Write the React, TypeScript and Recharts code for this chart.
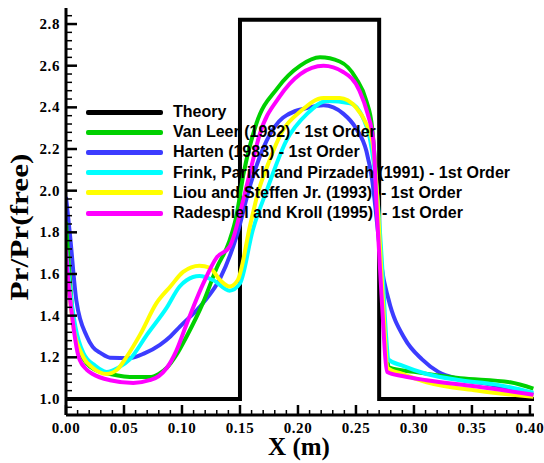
import { LineChart, Line, XAxis, YAxis, Legend } from "recharts";

// [x (m), Pr/Pr(free)]
const THEORY: [number, number][] = [
  [0, 1.0], [0.15, 1.0], [0.15, 2.82], [0.27, 2.82], [0.27, 1.0], [0.4035, 1.0],
];

const VAN_LEER: [number, number][] = [
  [0, 1.85], [0.002, 1.68], [0.006, 1.39], [0.012, 1.23], [0.018, 1.17], [0.025, 1.14],
  [0.038, 1.12], [0.05, 1.108], [0.06, 1.105], [0.072, 1.105], [0.08, 1.12], [0.087, 1.15],
  [0.095, 1.21], [0.104, 1.3], [0.118, 1.46], [0.13, 1.63], [0.141, 1.76], [0.147, 1.88],
  [0.153, 2.08], [0.164, 2.32], [0.182, 2.49], [0.202, 2.6], [0.219, 2.64], [0.236, 2.62],
  [0.25, 2.54], [0.259, 2.43], [0.264, 2.3], [0.268, 2.0], [0.272, 1.6], [0.276, 1.25],
  [0.279, 1.15], [0.3, 1.13], [0.34, 1.1], [0.383, 1.08], [0.403, 1.05],
];

const HARTEN: [number, number][] = [
  [0, 1.97], [0.0034, 1.79], [0.009, 1.47], [0.018, 1.3], [0.023, 1.25], [0.03, 1.22],
  [0.038, 1.198], [0.055, 1.196], [0.068, 1.22], [0.081, 1.26], [0.09, 1.3], [0.098, 1.346],
  [0.118, 1.46], [0.133, 1.58], [0.147, 1.78], [0.159, 2.03], [0.173, 2.24], [0.187, 2.35],
  [0.21, 2.4], [0.222, 2.41], [0.239, 2.37], [0.25, 2.3], [0.259, 2.19], [0.264, 2.05],
  [0.269, 1.8], [0.272, 1.64], [0.278, 1.48], [0.292, 1.29], [0.307, 1.19], [0.321, 1.13],
  [0.339, 1.096], [0.365, 1.07], [0.403, 1.02],
];

const FRINK: [number, number][] = [
  [0, 1.72], [0.003, 1.55], [0.008, 1.35], [0.015, 1.22], [0.025, 1.16], [0.035, 1.13],
  [0.045, 1.15], [0.055, 1.19], [0.07, 1.31], [0.087, 1.44], [0.098, 1.54], [0.104, 1.57],
  [0.115, 1.59], [0.127, 1.57], [0.141, 1.52], [0.15, 1.555], [0.161, 1.81], [0.173, 2.0],
  [0.19, 2.24], [0.208, 2.37], [0.225, 2.43], [0.245, 2.42], [0.256, 2.35], [0.262, 2.25],
  [0.268, 2.0], [0.273, 1.6], [0.276, 1.3], [0.278, 1.19], [0.29, 1.16], [0.311, 1.12],
  [0.34, 1.09], [0.37, 1.07], [0.403, 1.03],
];

const LIOU: [number, number][] = [
  [0, 1.6], [0.002, 1.55], [0.006, 1.36], [0.015, 1.2], [0.023, 1.15], [0.035, 1.12],
  [0.044, 1.14], [0.052, 1.2], [0.064, 1.31], [0.078, 1.46], [0.09, 1.54], [0.101, 1.61],
  [0.115, 1.64], [0.124, 1.63], [0.133, 1.57], [0.141, 1.54], [0.148, 1.57], [0.159, 1.84],
  [0.166, 2.0], [0.173, 2.11], [0.187, 2.29], [0.202, 2.38], [0.222, 2.445], [0.236, 2.445],
  [0.25, 2.4], [0.259, 2.32], [0.264, 2.24], [0.268, 2.0], [0.272, 1.6], [0.275, 1.3],
  [0.277, 1.15], [0.29, 1.12], [0.311, 1.08], [0.354, 1.04], [0.403, 1.01],
];

const RADESPIEL: [number, number][] = [
  [0, 1.72], [0.001, 1.63], [0.005, 1.41], [0.011, 1.2], [0.018, 1.14], [0.023, 1.12],
  [0.038, 1.09], [0.058, 1.077], [0.072, 1.09], [0.08, 1.11], [0.087, 1.15], [0.095, 1.23],
  [0.104, 1.36], [0.118, 1.55], [0.13, 1.68], [0.141, 1.73], [0.144, 1.77], [0.153, 1.96],
  [0.16, 2.12], [0.167, 2.27], [0.184, 2.45], [0.202, 2.56], [0.222, 2.6], [0.239, 2.57],
  [0.253, 2.48], [0.26, 2.37], [0.265, 2.24], [0.268, 1.9], [0.272, 1.5], [0.277, 1.13],
  [0.29, 1.11], [0.311, 1.09], [0.354, 1.06], [0.403, 1.02],
];

const LEGEND_NAMES = [
  "Theory",
  "Van Leer (1982) - 1st Order",
  "Harten (1983) - 1st Order",
  "Frink, Parikh and Pirzadeh (1991) - 1st Order",
  "Liou and Steffen Jr. (1993)  - 1st Order",
  "Radespiel and Kroll (1995)  - 1st Order",
];
const LEGEND_COLORS = ["#000000", "#00d000", "#3c3cff", "#00ffff", "#ffff00", "#ff00ff"];

const X_MAJOR = [0, 0.05, 0.1, 0.15, 0.2, 0.25, 0.3, 0.35, 0.4];
const Y_MAJOR = [1.0, 1.2, 1.4, 1.6, 1.8, 2.0, 2.2, 2.4, 2.6, 2.8];
const X_DOMAIN: [number, number] = [0, 0.4035];
const Y_DOMAIN: [number, number] = [0.923, 2.877];

const X_TICKS: number[] = [];
for (let i = 0; i <= 40; i++) X_TICKS.push(i / 100);
const Y_TICKS: number[] = [];
for (let i = 24; i <= 71; i++) Y_TICKS.push(i / 25);

const pts = (arr: [number, number][]) => arr.map(([x, y]) => ({ x, y }));
const isMajor = (list: number[], v: number) => list.some((m) => Math.abs(m - v) < 1e-6);

const SERIF = "'Liberation Serif', 'Times New Roman', serif";
const SANS = "'Liberation Sans', Arial, sans-serif";

function XTick(props: any) {
  const { x, y, payload } = props;
  const v = payload.value;
  const major = isMajor(X_MAJOR, v);
  return (
    <g>
      <line x1={x} x2={x} y1={y} y2={y - (major ? 10 : 5)} stroke="#000" strokeWidth={major ? 2.5 : 1.5} />
      {major && (
        <text x={x} y={y + 18} textAnchor="middle" fontFamily={SERIF} fontWeight="bold" fontSize={15} letterSpacing={0.6} fill="#000">
          {v.toFixed(2)}
        </text>
      )}
    </g>
  );
}

function YTick(props: any) {
  const { x, y, payload } = props;
  const v = payload.value;
  const major = isMajor(Y_MAJOR, v);
  return (
    <g>
      <line x1={x} x2={x + (major ? 11 : 6)} y1={y} y2={y} stroke="#000" strokeWidth={major ? 2.5 : 1.5} />
      {major && (
        <text x={x - 6} y={y + 5} textAnchor="end" fontFamily={SERIF} fontWeight="bold" fontSize={15} letterSpacing={0.6} fill="#000">
          {v.toFixed(1)}
        </text>
      )}
    </g>
  );
}

function renderLegend() {
  return (
    <div style={{ fontFamily: SANS, fontWeight: "bold", fontSize: 16, color: "#000" }}>
      {LEGEND_NAMES.map((name, i) => (
        <div key={name} style={{ display: "flex", alignItems: "center", height: 20.2, whiteSpace: "pre" }}>
          <div style={{ width: 77, height: 5, borderRadius: 2, background: LEGEND_COLORS[i], marginRight: 10 }} />
          <span>{name}</span>
        </div>
      ))}
    </div>
  );
}

export default function App() {
  return (
    <div style={{ position: "absolute", left: 0, top: 0, width: 544, height: 463, background: "#fff" }}>
      <LineChart width={544} height={463} margin={{ top: 8, right: 10, bottom: 0, left: 0 }}>
        <XAxis
          type="number"
          dataKey="x"
          domain={X_DOMAIN}
          allowDataOverflow
          ticks={X_TICKS}
          interval={0}
          tickSize={0}
          tickMargin={0}
          tickLine={false}
          tick={XTick}
          height={48}
          axisLine={{ stroke: "#000", strokeWidth: 3 }}
          label={{
            content: () => (
              <text x={299} y={455} textAnchor="middle" fontFamily={SERIF} fontWeight="bold" fontSize={25} fill="#000">
                X (m)
              </text>
            ),
          }}
        />
        <XAxis xAxisId="top" orientation="top" type="number" domain={[0, 1]} height={0} tick={false} tickLine={false} axisLine={{ stroke: "#000", strokeWidth: 2 }} />
        <YAxis
          type="number"
          domain={Y_DOMAIN}
          allowDataOverflow
          ticks={Y_TICKS}
          interval={0}
          tickSize={0}
          tickMargin={0}
          tickLine={false}
          tick={YTick}
          width={66}
          axisLine={{ stroke: "#000", strokeWidth: 3 }}
          label={{
            content: () => (
              <text
                x={28}
                y={227}
                transform="rotate(-90, 28, 227)"
                textAnchor="middle"
                fontFamily={SERIF}
                fontWeight="bold"
                fontSize={26}
                textLength={147}
                lengthAdjust="spacingAndGlyphs"
                fill="#000"
              >
                Pr/Pr(free)
              </text>
            ),
          }}
        />
        <YAxis yAxisId="right" orientation="right" type="number" domain={[0, 1]} width={0} tick={false} tickLine={false} axisLine={{ stroke: "#000", strokeWidth: 2.5 }} />
        <Line data={pts(THEORY)} dataKey="y" name="Theory" type="linear" stroke="#000" strokeWidth={4} dot={false} isAnimationActive={false} />
        <Line data={pts(HARTEN)} dataKey="y" name="Harten" type="monotone" stroke="#3c3cff" strokeWidth={4} dot={false} isAnimationActive={false} />
        <Line data={pts(VAN_LEER)} dataKey="y" name="Van Leer" type="monotone" stroke="#00d000" strokeWidth={4} dot={false} isAnimationActive={false} />
        <Line data={pts(FRINK)} dataKey="y" name="Frink" type="monotone" stroke="#00ffff" strokeWidth={4} dot={false} isAnimationActive={false} />
        <Line data={pts(LIOU)} dataKey="y" name="Liou" type="monotone" stroke="#ffff00" strokeWidth={4} dot={false} isAnimationActive={false} />
        <Line data={pts(RADESPIEL)} dataKey="y" name="Radespiel" type="monotone" stroke="#ff00ff" strokeWidth={4} dot={false} isAnimationActive={false} />
        <Legend layout="horizontal" verticalAlign="middle" align="center" wrapperStyle={{ left: 86, top: 102, width: 450 }} content={renderLegend} />
      </LineChart>
    </div>
  );
}
